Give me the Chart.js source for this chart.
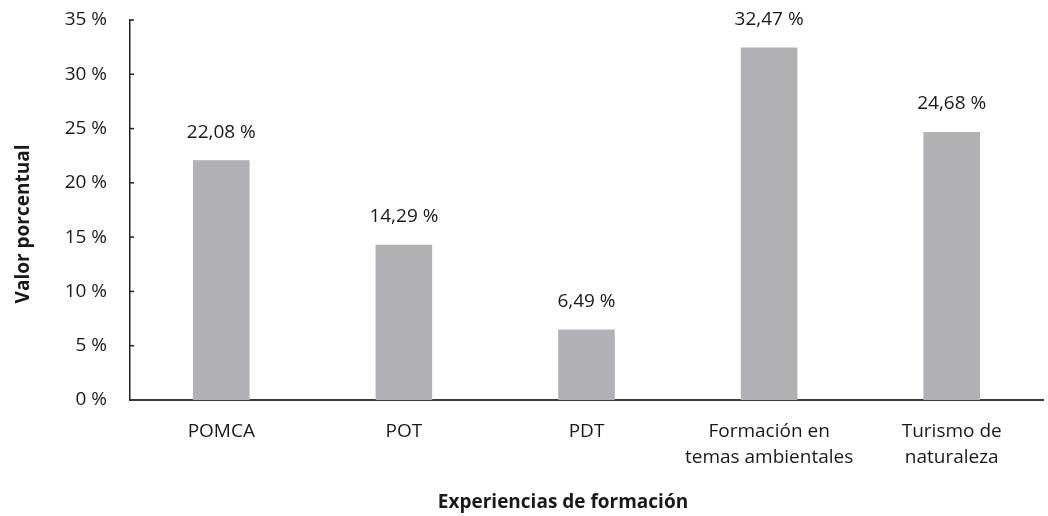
<!DOCTYPE html>
<html>
<head>
<meta charset="utf-8">
<script src="https://cdn.jsdelivr.net/npm/chart.js@4"></script>
<style>
  html, body { margin: 0; padding: 0; background: #fff; }
  #wrap { width: 1048px; height: 516px; }
</style>
</head>
<body>
<div id="wrap"><canvas id="myChart" width="1048" height="516"></canvas></div>
<script>
const labels = ['POMCA', 'POT', 'PDT', ['Formación en', 'temas ambientales'], ['Turismo de', 'naturaleza']];
const data = [22.08, 14.29, 6.49, 32.47, 24.68];
const yTicks = [0, 5, 10, 15, 20, 25, 30, 35];
const xTitle = 'Experiencias de formación';
const yTitle = 'Valor porcentual';

const textColor = '#1c1819';
const fontFamily = '"Open Sans", "Noto Sans", sans-serif';

const fmt = (v) => v.toFixed(2).replace('.', ',') + ' %';

// etiquetas sobre las barras + marcas del eje y hacia adentro + titulos de ejes
const extras = {
  id: 'extras',
  afterDatasetsDraw(chart) {
    const ctx = chart.ctx;
    const meta = chart.getDatasetMeta(0);
    ctx.save();
    ctx.fillStyle = textColor;
    ctx.font = '19px ' + fontFamily;
    ctx.textAlign = 'center';
    ctx.textBaseline = 'middle';
    meta.data.forEach((bar, i) => {
      ctx.fillText(fmt(data[i]), bar.x, bar.y - 28);
    });

    const y = chart.scales.y;
    ctx.strokeStyle = '#222';
    ctx.lineWidth = 1.5;
    yTicks.slice(1).forEach((t) => {
      const py = y.getPixelForValue(t);
      ctx.beginPath();
      ctx.moveTo(y.right, py);
      ctx.lineTo(y.right + 4, py);
      ctx.stroke();
    });

    ctx.font = 'bold 19px ' + fontFamily;
    ctx.fillText(xTitle, 563, 503);

    ctx.translate(24, 224);
    ctx.rotate(-Math.PI / 2);
    ctx.fillText(yTitle, 0, 0);
    ctx.restore();
  },
};

new Chart(document.getElementById('myChart'), {
  type: 'bar',
  data: {
    labels,
    datasets: [
      {
        data,
        backgroundColor: '#b1b0b5',
        categoryPercentage: 1,
        barPercentage: 0.31,
      },
    ],
  },
  options: {
    responsive: false,
    animation: false,
    layout: { padding: { top: 20, right: 5, left: 0, bottom: 0 } },
    plugins: {
      legend: { display: false },
      tooltip: { enabled: false },
    },
    scales: {
      x: {
        grid: { display: false, drawTicks: false },
        border: { display: true, color: '#3a3a3a', width: 2 },
        ticks: {
          color: textColor,
          padding: 19,
          maxRotation: 0,
          autoSkip: false,
          font: { family: fontFamily, size: 19, lineHeight: 1.35 },
        },
        afterFit: (scale) => { scale.height = 116; },
      },
      y: {
        min: 0,
        max: 35,
        grid: { display: false, drawTicks: false },
        border: { display: true, color: '#222', width: 1.5 },
        ticks: {
          stepSize: 5,
          color: textColor,
          padding: 23,
          font: { family: fontFamily, size: 19 },
          callback: (v) => v + ' %',
        },
        afterFit: (scale) => {
          scale.width = 130;
          scale.paddingTop = 0;
          scale.paddingBottom = 0;
        },
      },
    },
  },
  plugins: [extras],
});
</script>
</body>
</html>
